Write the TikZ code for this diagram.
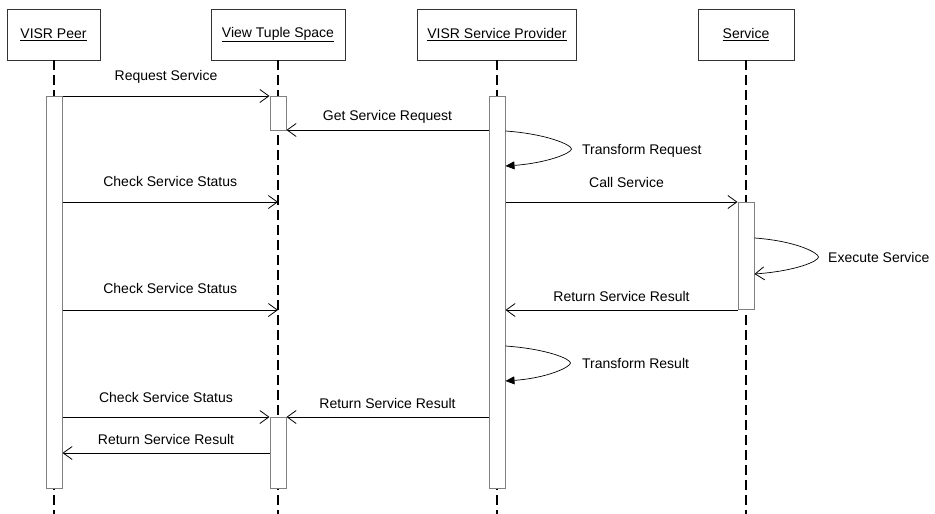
\documentclass[tikz,border=0pt]{standalone}
\usepackage{fontspec}
\setmainfont{Liberation Sans}
\usetikzlibrary{arrows.meta,calc}

\begin{document}
\begin{tikzpicture}[x=1pt,y=-1pt,
  font=\fontsize{14}{16}\selectfont,
  obj/.style={draw=black!80, line width=0.8pt, fill=white, inner sep=0pt,
              minimum height=51pt},
  life/.style={line width=2pt, dash pattern=on 10pt off 5pt},
  act/.style={draw=black!50, line width=1pt, fill=white, inner sep=0pt,
              minimum width=16pt},
  msg/.style={line width=0.8pt,
              -{Straight Barb[length=9pt,width=13pt,line width=0.8pt]}},
  selfcall/.style={line width=0.7pt, -{Triangle[length=9pt,width=8pt]}},
  selfopen/.style={line width=0.7pt,
              -{Straight Barb[length=9pt,width=13pt,line width=0.8pt]}},
  lbl/.style={anchor=base, inner sep=0pt},
  note/.style={anchor=base west, inner sep=0pt},
]
\useasboundingbox (0,0) rectangle (935,514);

% participants
\node[obj, minimum width=93pt]  (peer) at (53.5,34.5) {\underline{VISR Peer}};
\node[obj, minimum width=134pt] (vts)  at (278,34.5)  {\underline{View Tuple Space}};
\node[obj, minimum width=159pt] (vsp)  at (497,34.5)  {\underline{VISR Service Provider}};
\node[obj, minimum width=96pt]  (svc)  at (746,34.5)  {\underline{Service}};

% lifeline ends
\coordinate (bottom) at (0,516);
\foreach \p in {peer,vts,vsp,svc}
  \draw[life] (\p.south) -- (\p.south |- bottom);

% activation bars
\node[act, minimum height=392pt] (peerA) at (54,292)   {};
\node[act, minimum height=34pt]  (vtsA)  at (278,113)  {};
\node[act, minimum height=71pt]  (vtsB)  at (278,452.5){};
\node[act, minimum height=392pt] (vspA)  at (497,292)  {};
\node[act, minimum height=107pt] (svcA)  at (746,255.5){};

% message rows
\coordinate (r1) at (0,96);
\coordinate (r2) at (0,130);
\coordinate (r3) at (0,202);
\coordinate (r4) at (0,310);
\coordinate (r5) at (0,417);
\coordinate (r6) at (0,453);

% messages
\draw[msg] (peerA.east |- r1) -- (vtsA.west |- r1)
  node[lbl, midway, yshift=16pt] {Request Service};
\draw[msg] (vspA.west |- r2) -- (vtsA.east |- r2)
  node[lbl, midway, yshift=9.5pt] {Get Service Request};
\draw[msg] (peerA.east |- r3) -- (vts.south |- r3)
  node[lbl, midway, yshift=16pt] {Check Service Status};
\draw[msg] (vspA.east |- r3) -- (svcA.west |- r3)
  node[lbl, midway, xshift=5pt, yshift=15pt] {Call Service};
\draw[msg] (peerA.east |- r4) -- (vts.south |- r4)
  node[lbl, midway, yshift=16.5pt] {Check Service Status};
\draw[msg] (svcA.west |- r4) -- (vspA.east |- r4)
  node[lbl, midway, yshift=8.5pt] {Return Service Result};
\draw[msg] (peerA.east |- r5) -- (vtsB.west |- r5)
  node[lbl, midway, yshift=15pt] {Check Service Status};
\draw[msg] (vspA.west |- r5) -- (vtsB.east |- r5)
  node[lbl, midway, yshift=9pt] {Return Service Result};
\draw[msg] (vtsB.west |- r6) -- (peerA.east |- r6)
  node[lbl, midway, yshift=9pt] {Return Service Result};

% self calls
\coordinate (t1) at (0,131);
\coordinate (t2) at (0,166);
\draw[selfcall] (vspA.east |- t1)
  .. controls +(42,3) and +(0,-4) .. ++(66,18)
  .. controls +(0,4) and +(42,-3) .. (vspA.east |- t2);
\node[note] (tr) at (582,154) {Transform Request};

\coordinate (e1) at (0,238);
\coordinate (e2) at (0,274);
\draw[selfopen] (svcA.east |- e1)
  .. controls +(42,3) and +(0,-4) .. ++(64,19)
  .. controls +(0,4) and +(42,-3) .. (svcA.east |- e2);
\node[note] (ex) at (828,262) {Execute Service};

\coordinate (u1) at (0,346);
\coordinate (u2) at (0,381);
\draw[selfcall] (vspA.east |- u1)
  .. controls +(42,3) and +(0,-4) .. ++(65,17)
  .. controls +(0,4) and +(42,-3) .. (vspA.east |- u2);
\node[note] (tres) at (582,368) {Transform Result};
\end{tikzpicture}
\end{document}
